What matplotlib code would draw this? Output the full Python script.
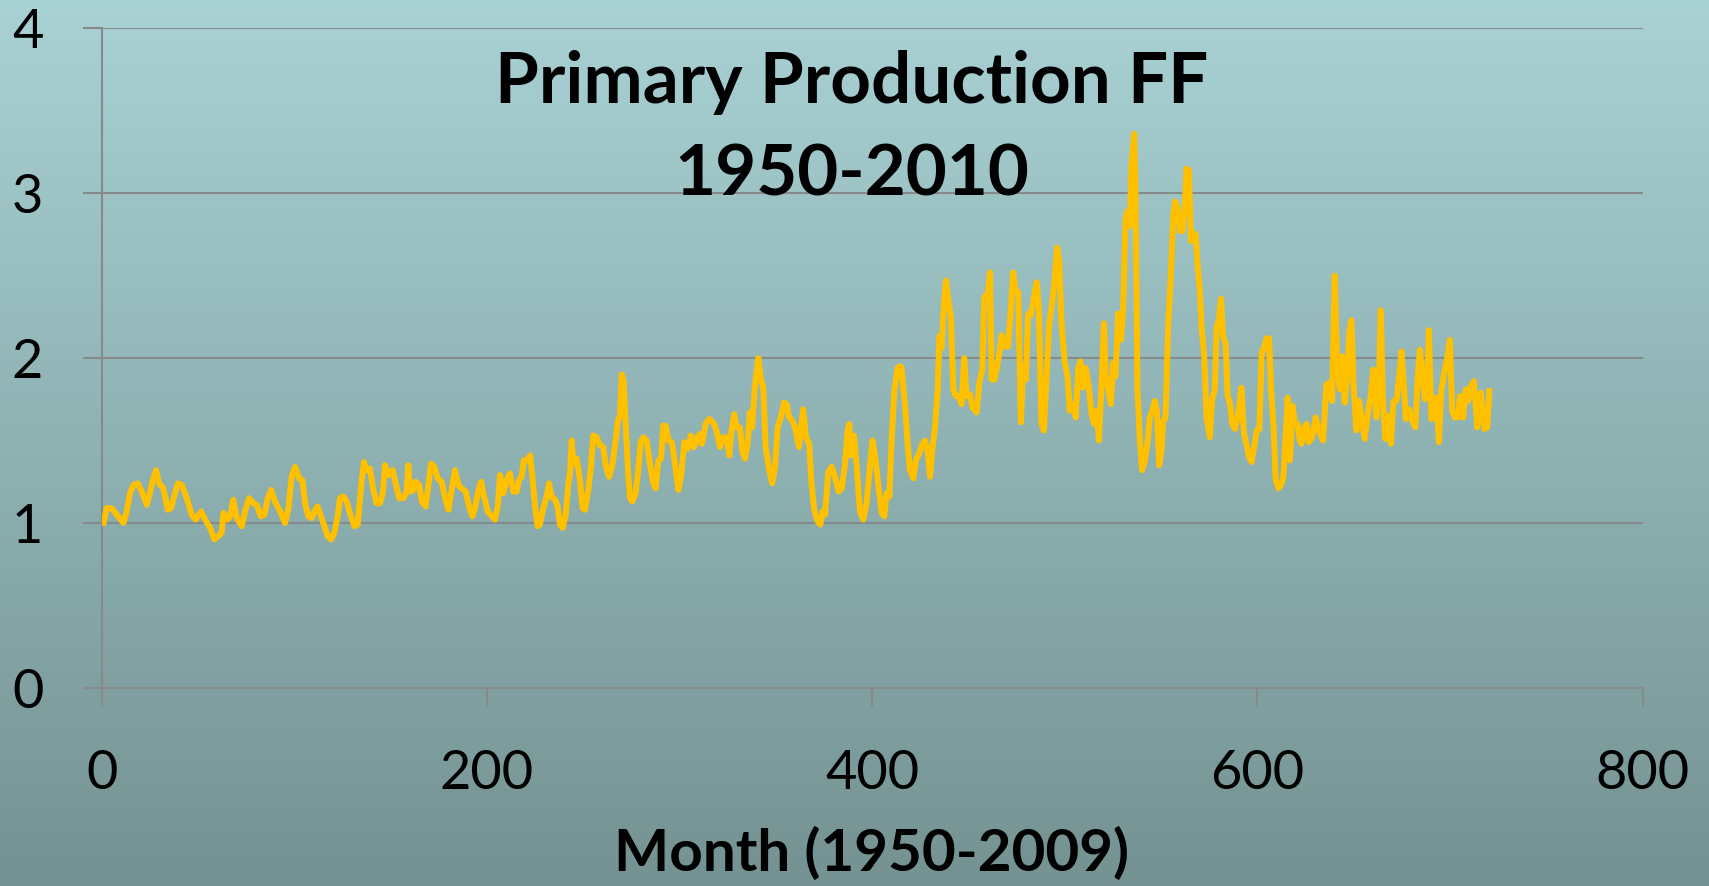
import numpy as np
import matplotlib
matplotlib.use("Agg")
import matplotlib.pyplot as plt

# monthly primary production (FF), vertices
month = [1, 2.6, 5.2, 7.8, 11.3, 13, 14.7, 16.5, 18.7, 20.8, 23.4, 24.8, 26.3, 28.2, 29.8, 32, 34.3, 36, 37.8,
         39.5, 41.6, 44.2, 46.7, 48.8, 51.6, 53.7, 56.3, 58.5, 60.6, 62.3, 63.2, 65.4, 66.6, 68.4, 70.1, 72.7,
         74.4, 76.5, 78.7, 80.5, 82.6, 84.5, 86.2, 88, 90, 92.6, 95.2, 97, 98.6, 100.4, 102.5,
         104.2, 105.6, 107.3, 109, 110.4, 112, 113.9, 115.6, 117.3, 119.1, 120.8, 122.5, 123.7, 125.5, 127.2,
         128.9, 131.2, 132.9, 135, 136.2, 137.6, 139.3, 141, 142.7, 144.5, 145.9, 147.1, 148.8, 151.1, 152.8,
         154.5, 156.6, 158.3, 159.2, 160.1, 161.8, 163, 164.8, 166.2, 168.2, 169.6, 171, 172.7, 174.4, 176.5,
         178.3, 180, 181.7, 183.4, 185.2, 186.9, 189, 190.7, 192.5, 193.8, 195.6, 197, 198.5, 200.4, 202.5,
         204.2, 205.6, 206.8,
         208.5, 210.2, 212, 213.7, 215.4, 216.7, 218, 219.2, 221, 222.4, 223.6, 225, 226.3, 227.5, 229.3, 231,
         232.2, 233.6, 235.4, 236.7, 237.9, 239.3, 240.9, 242.3, 243.1, 244, 244.9, 246.6, 248.3, 249.7, 250.9,
         252.6, 254, 255.2, 256.9, 258.7, 260.4, 261.6, 263.4, 265.1, 266.5, 267.9, 269.1, 270, 271, 272.2,
         273.4, 274.3, 275.5, 277.2, 278.6, 279.8, 281.2, 282.9, 284.6, 286.4, 287.6, 289, 290.4, 291.6, 292.8,
         294.2, 296, 297.6, 299.4, 300.7, 302.5, 304.2, 305.8, 307.5, 309.2, 310.6,
         311.7, 313.5, 315.3, 317.5, 319.2, 321, 322.7, 324.4, 325.8, 327, 328.4, 329.6, 331.3, 332.7, 334,
         335.3, 336.5, 337.7, 339.1, 340.9, 342.2, 343.4, 344.7, 346.4, 348.1, 349.5, 350.9, 352.6, 354.2,
         355.6, 356.9, 358.5, 359.9, 362, 363, 364.2, 365.6, 367.3, 368.5, 369.9, 371.7, 373.1, 374.3, 375.5,
         377.2, 379, 380.7, 382.5, 384.2, 385.9, 387.3, 388.1, 389, 390.6, 392, 393.6, 395.4, 397.1, 398.8,
         400.2, 401.8, 403.1, 404.9, 406.3, 407.5, 408.9, 410.1, 411.5, 413.2, 414.4,
         415.2, 417, 418.4, 419.6, 421.4, 422.7, 424.4, 426, 427.4, 428.8, 430, 431.2, 432.6, 434, 434.9, 436,
         437.4, 438.3, 439.5, 440.9, 442.1, 443.3, 445, 446.4, 447.8, 449, 450.7, 452.1, 454.2, 455.6, 457.2,
         458.2, 460, 461.2, 462, 463.4, 464.6, 466, 467.2, 468.5, 470.6, 471.9, 473.2, 474.4, 475.8, 477.2,
         478.4, 479.8, 481, 482.4, 483.6, 485.4, 486.5, 487.9, 489.1, 490.5, 491.9, 493.4, 494.8, 496, 497.1,
         498.3, 500, 501.4, 502.6, 504.4, 505.7, 506.9, 508.1, 509.2, 510.8, 512.2, 513.9, 515.3, 516.5, 517.7,
         519.1, 520.3, 521.3, 522.5, 523.9, 525.1, 526.3, 527.7, 529.1, 530.3, 531.5, 532.5, 533.7, 534.6, 536,
         536.7, 537.7, 538.9, 540.1, 541.5, 542.9, 544.1, 545.4, 546.7, 547.8, 549, 550.2, 551.1, 552.3, 553.7,
         555, 556.3, 557.2, 558.4, 559.8, 561, 562.3, 563.2, 564.4, 565.5, 566.7, 567.9, 568.9, 570.1, 571,
         572.4, 573.6, 575.3, 576.5, 577.9, 578.8, 580, 581.1, 582.2, 583.5, 584.5, 585.7, 586.9, 588.3, 589.7,
         590.9, 591.7, 593, 594.3, 595.6, 597, 598.3, 599.6, 601, 602.2, 603.6, 604.8, 606, 607.1, 608.3, 609.5,
         610.9, 612.3, 613.5, 614.7, 615.7, 616.9, 618.3, 619.5, 620.9, 622,
         622.9, 624.3, 625.5, 626.7, 628.4, 630.2, 631.9, 634.1, 635.8, 637.2, 638.8, 640.1, 641.4, 642.8, 644,
         645.3, 646.6, 647.6, 648.8, 650, 651.4, 652.8, 654, 655.7, 657.5, 658.9, 660.1, 661.8, 663, 664, 665.2,
         666.4, 667.9, 669.3, 670.6, 672.2, 673.6, 674.8, 676.2, 677, 678.6, 680.3, 682, 683.1, 684.3, 685.5,
         686.9, 688.1, 689, 690.3, 691.7, 692.9, 694.2, 695.5, 697.3, 698.7, 699.9, 701.1, 702.5, 704.2, 705.1,
         706.8, 708.1, 709.4, 710.8, 712.4, 714.1, 716, 717.8, 719.3, 720.4]

ppff = [1.0, 1.09, 1.09, 1.05, 1.0, 1.07, 1.18, 1.23, 1.24, 1.19, 1.11, 1.17, 1.25, 1.32, 1.24, 1.21, 1.08, 1.09, 1.17,
        1.24, 1.23, 1.15, 1.05, 1.02, 1.07, 1.02, 0.97, 0.90, 0.92, 0.94, 1.06, 1.02, 1.04, 1.14, 1.03, 0.98,
        1.07, 1.15, 1.12, 1.11, 1.04, 1.05, 1.15, 1.20, 1.13, 1.07, 1.0, 1.09, 1.28, 1.34, 1.27,
        1.26, 1.12, 1.04, 1.03, 1.07, 1.10, 1.04, 0.98, 0.92, 0.90, 0.94, 1.04, 1.15, 1.16, 1.13,
        1.06, 0.98, 0.99, 1.26, 1.37, 1.32, 1.33, 1.20, 1.12, 1.12, 1.18, 1.35, 1.29, 1.32, 1.23,
        1.15, 1.15, 1.19, 1.35, 1.19, 1.20, 1.25, 1.23, 1.13, 1.10, 1.23, 1.36, 1.34, 1.27, 1.25,
        1.15, 1.08, 1.20, 1.32, 1.23, 1.21, 1.19, 1.10, 1.04, 1.09, 1.20, 1.25, 1.16, 1.07, 1.04,
        1.02, 1.10, 1.29,
        1.18, 1.26, 1.30, 1.19, 1.19, 1.26, 1.28, 1.38, 1.38, 1.41, 1.28, 1.10, 0.98, 0.99, 1.09, 1.16,
        1.24, 1.16, 1.14, 1.10, 0.99, 0.97, 1.05, 1.24, 1.30, 1.50, 1.36, 1.39, 1.26, 1.09, 1.08,
        1.20, 1.34, 1.53, 1.52, 1.47, 1.46, 1.35, 1.28, 1.35, 1.47, 1.62, 1.65, 1.90, 1.86, 1.56,
        1.28, 1.15, 1.13, 1.18, 1.32, 1.49, 1.52, 1.50, 1.36, 1.24, 1.21, 1.38, 1.39, 1.59, 1.59,
        1.50, 1.49, 1.36, 1.20, 1.28, 1.49, 1.45, 1.53, 1.46, 1.52, 1.54,
        1.48, 1.60, 1.63, 1.61, 1.56, 1.46, 1.52, 1.52, 1.41, 1.56, 1.66, 1.58, 1.58, 1.43, 1.39,
        1.48, 1.67, 1.58, 1.83, 2.00, 1.87, 1.83, 1.46, 1.33, 1.24, 1.33, 1.58, 1.64, 1.73,
        1.72, 1.64, 1.62, 1.58, 1.46, 1.58, 1.69, 1.52, 1.48, 1.24, 1.08, 1.01, 0.99, 1.07, 1.05,
        1.31, 1.34, 1.28, 1.19, 1.21, 1.36, 1.57, 1.60, 1.41, 1.53, 1.34, 1.07, 1.02, 1.12, 1.34,
        1.50, 1.38, 1.24, 1.06, 1.04, 1.18, 1.16, 1.50, 1.80, 1.94, 1.95,
        1.94, 1.72, 1.48, 1.32, 1.27, 1.38, 1.42, 1.48, 1.50, 1.44, 1.28, 1.44, 1.58, 1.81, 2.13, 2.06,
        2.35, 2.47, 2.35, 2.25, 1.81, 1.77, 1.77, 1.72, 2.00, 1.77, 1.78, 1.70, 1.67, 1.85, 1.93,
        2.37, 2.39, 2.52, 1.87, 1.87, 1.93, 2.03, 2.14, 2.07, 2.07, 2.29, 2.52, 2.41, 2.40, 1.61,
        1.95, 1.87, 2.27, 2.26, 2.35, 2.46, 2.31, 1.60, 1.56, 1.87, 2.21, 2.33, 2.49, 2.67, 2.59,
        2.21, 1.97, 1.89, 1.68, 1.72, 1.64, 1.93, 1.98, 1.82, 1.94, 1.85, 1.66, 1.60, 1.68, 1.50,
        1.85, 2.21, 1.89, 1.81, 1.72, 1.97, 1.89, 2.27, 2.11, 2.29, 2.84, 2.89, 2.80, 3.16, 3.36,
        3.02, 1.81, 1.52, 1.32, 1.37, 1.48, 1.64, 1.68, 1.74, 1.68, 1.35, 1.44, 1.62, 1.64, 2.21,
        2.49, 2.86, 2.95, 2.92, 2.77, 2.77, 2.92, 3.15, 3.14, 2.71, 2.76, 2.75, 2.57, 2.41, 2.19,
        2.01, 1.64, 1.52, 1.75, 1.81, 2.19, 2.23, 2.36, 2.13, 2.09, 1.77, 1.73, 1.60, 1.57, 1.64,
        1.74, 1.82, 1.54, 1.48, 1.40, 1.37, 1.46, 1.56, 1.57, 2.03, 2.07, 2.12, 2.12, 1.81, 1.60, 1.26,
        1.21, 1.23, 1.28, 1.54, 1.76, 1.38, 1.71, 1.60, 1.60, 1.50,
        1.48, 1.58, 1.60, 1.49, 1.52, 1.64, 1.56, 1.50, 1.84, 1.85, 1.74, 2.50, 1.97, 1.81, 2.01,
        1.73, 1.89, 2.15, 2.23, 1.81, 1.56, 1.74, 1.64, 1.51, 1.68, 1.78, 1.93, 1.64, 1.82, 2.29, 1.74,
        1.51, 1.65, 1.48, 1.74, 1.74, 1.89, 2.04, 1.81, 1.63, 1.69, 1.62, 1.58, 1.87, 2.05, 1.91,
        1.75, 1.83, 2.17, 1.63, 1.64, 1.76, 1.49, 1.81, 1.93, 2.01, 2.11, 1.68, 1.64, 1.64, 1.77,
        1.64, 1.81, 1.74, 1.83, 1.86, 1.58, 1.79, 1.57, 1.58, 1.80]

grid_col = "#878a8a"
font = ["Lato", "DejaVu Sans"]

fig = plt.figure(figsize=(17.09, 8.86), dpi=100)

# vertical gradient background
bg = fig.add_axes([0, 0, 1, 1], zorder=-10)
top = np.array([169, 210, 212]) / 255
bot = np.array([117, 146, 146]) / 255
t = np.linspace(0, 1, 256)[:, None]
grad = (top * (1 - t) + bot * t)[:, None, :]
bg.imshow(grad, aspect="auto", extent=[0, 1, 0, 1])
bg.axis("off")

ax = fig.add_axes([0.0595, 0.2237, 0.9017, 0.7443])
ax.patch.set_alpha(0)
ax.plot(month, ppff, color="#FFC000", lw=4.3, solid_joinstyle="round", zorder=3)

ax.set_xlim(0, 800)
ax.set_ylim(0, 4)
ax.set_xticks([0, 200, 400, 600, 800])
ax.set_yticks([0, 1, 2, 3, 4])
for y in [1, 2, 3, 4]:
    ax.axhline(y, color=grid_col, lw=1.5, zorder=1)
for s in ["top", "right"]:
    ax.spines[s].set_visible(False)
for s in ["left", "bottom"]:
    ax.spines[s].set_color(grid_col)
    ax.spines[s].set_linewidth(1.5)
ax.tick_params(axis="both", direction="out", length=14, width=1.5, color=grid_col,
               labelsize=39, labelcolor="black")
ax.tick_params(axis="x", pad=30)
ax.tick_params(axis="y", pad=28)
for lab in ax.get_xticklabels() + ax.get_yticklabels():
    lab.set_family(font)

fig.text(0.5102, 0.036, "Month (1950-2009)", ha="center", va="center",
         fontsize=42, fontweight="bold", family=font)
fig.text(0.0595 + 0.4866 * 0.9017, 0.8832, "Primary Production FF", ha="center", va="baseline",
         fontsize=51, fontweight="bold", family=font)
fig.text(0.0595 + 0.4866 * 0.9017, 0.7788, "1950-2010", ha="center", va="baseline",
         fontsize=51, fontweight="bold", family=font)

fig.savefig("out.png", dpi=100)
